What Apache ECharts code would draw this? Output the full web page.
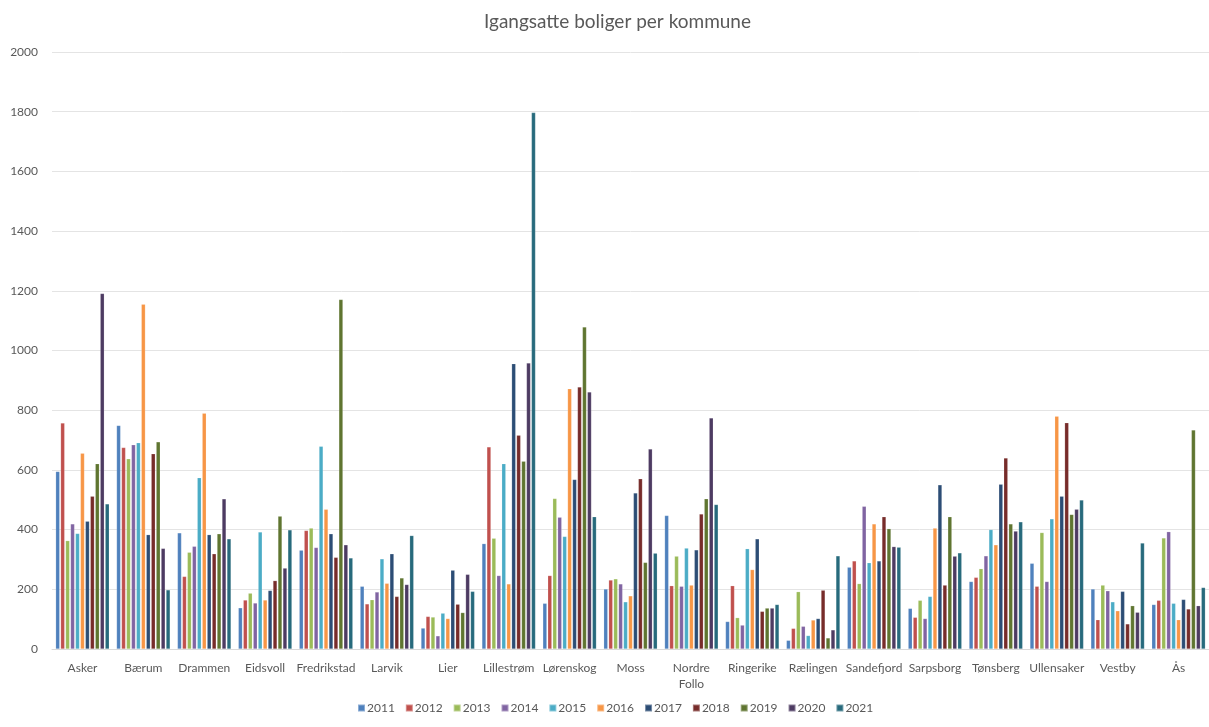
<!DOCTYPE html>
<html>
<head>
<meta charset="utf-8">
<title>Igangsatte boliger per kommune</title>
<script src="https://cdn.jsdelivr.net/npm/echarts@6/dist/echarts.min.js"></script>
<style>
  html, body { margin: 0; padding: 0; background: #ffffff; }
  #chart { width: 1209px; height: 727px; }
</style>
</head>
<body>
<div id="chart"></div>
<script>
// Municipalities along the x axis
const kommuner = ['Asker', 'Bærum', 'Drammen', 'Eidsvoll', 'Fredrikstad', 'Larvik', 'Lier',
  'Lillestrøm', 'Lørenskog', 'Moss', 'Nordre\nFollo', 'Ringerike', 'Rælingen', 'Sandefjord',
  'Sarpsborg', 'Tønsberg', 'Ullensaker', 'Vestby', 'Ås'];

// Started dwellings per year, one value per municipality (same order as above)
const y2011 = [595, 749, 389, 138, 331, 210, 70, 353, 153, 201, 447, 92, 29, 274, 136, 226, 287, 201, 149];
const y2012 = [757, 675, 243, 164, 397, 151, 109, 677, 246, 231, 212, 212, 69, 295, 106, 240, 210, 98, 163];
const y2013 = [363, 637, 324, 187, 405, 165, 107, 371, 504, 235, 311, 105, 192, 219, 163, 269, 390, 214, 372];
const y2014 = [419, 684, 344, 154, 340, 191, 44, 246, 441, 218, 210, 80, 76, 478, 102, 312, 226, 195, 393];
const y2015 = [387, 691, 574, 392, 679, 302, 120, 621, 377, 158, 338, 336, 45, 289, 176, 400, 436, 158, 153];
const y2016 = [656, 1155, 790, 164, 468, 220, 102, 218, 872, 178, 214, 266, 97, 419, 405, 349, 780, 128, 98];
const y2017 = [428, 383, 383, 196, 386, 319, 264, 956, 568, 523, 332, 369, 102, 295, 550, 552, 512, 193, 166];
const y2018 = [512, 654, 319, 229, 307, 176, 150, 716, 878, 570, 452, 126, 197, 443, 214, 640, 758, 84, 134];
const y2019 = [621, 694, 386, 445, 1171, 238, 122, 629, 1079, 290, 503, 137, 37, 403, 443, 419, 451, 145, 734];
const y2020 = [1191, 337, 503, 271, 349, 216, 250, 958, 861, 670, 774, 137, 64, 343, 311, 395, 468, 123, 145];
const y2021 = [486, 198, 369, 399, 305, 380, 193, 1797, 443, 321, 484, 149, 312, 341, 322, 426, 499, 355, 206];

const years = ['2011', '2012', '2013', '2014', '2015', '2016', '2017', '2018', '2019', '2020', '2021'];
const yearValues = [y2011, y2012, y2013, y2014, y2015, y2016, y2017, y2018, y2019, y2020, y2021];

// Value axis ticks
const yTicks = { min: 0, max: 2000, interval: 200 };

const colors = ['#4F81BD', '#C0504D', '#9BBB59', '#8064A2', '#4BACC6', '#F79646',
  '#2C4D75', '#772C2A', '#5F7530', '#4D3B62', '#276A7C'];

const font = 'Lato, "Open Sans", "DejaVu Sans", sans-serif';

const chart = echarts.init(document.getElementById('chart'), null, { renderer: 'canvas' });

chart.setOption({
  animation: false,
  color: colors,
  textStyle: { fontFamily: font },
  title: {
    text: 'Igangsatte boliger per kommune',
    left: 479,
    top: 7,
    textStyle: { fontFamily: font, fontSize: 19, fontWeight: 'normal', color: '#595959' }
  },
  legend: {
    data: years,
    bottom: 8,
    left: 352,
    itemWidth: 7,
    itemHeight: 7,
    itemGap: 10,
    icon: 'rect',
    textStyle: { fontFamily: font, fontSize: 12, color: '#595959', padding: [0, 0, 0, -3] }
  },
  grid: { left: 52, right: 0, top: 52, bottom: 78, containLabel: false },
  xAxis: {
    type: 'category',
    data: kommuner,
    axisLine: { show: true, lineStyle: { color: '#D9D9D9', width: 1 } },
    axisTick: { show: false },
    axisLabel: { color: '#595959', fontSize: 12, fontFamily: font, margin: 11, interval: 0, lineHeight: 16 }
  },
  yAxis: {
    type: 'value',
    min: yTicks.min,
    max: yTicks.max,
    interval: yTicks.interval,
    axisLine: { show: false },
    axisTick: { show: false },
    axisLabel: { color: '#595959', fontSize: 12, fontFamily: font, margin: 14, formatter: v => String(v) },
    splitLine: { lineStyle: { color: '#E4E4E4', width: 1 } }
  },
  series: years.map((yr, i) => ({
    name: yr,
    type: 'bar',
    data: yearValues[i],
    barGap: '22%',
    barCategoryGap: '12%',
    itemStyle: { borderColor: 'rgba(255,255,255,0.35)', borderWidth: 0.5 }
  }))
});
</script>
</body>
</html>
